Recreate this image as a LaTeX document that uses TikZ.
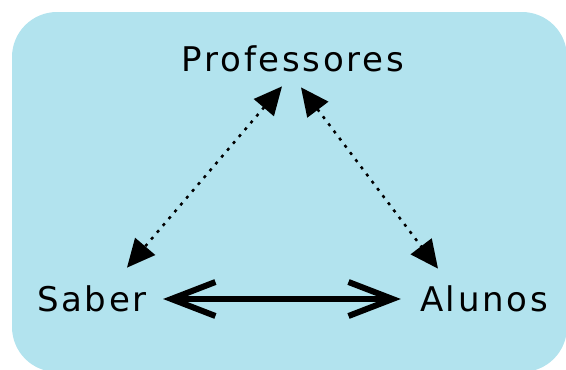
\documentclass[tikz,border=0pt]{standalone}
\usepackage{fontspec}
\newfontfamily\pixfont[LetterSpace=8]{DejaVu Sans}
\usetikzlibrary{arrows.meta}
\definecolor{cardblue}{RGB}{178,227,238}

\begin{document}
\begin{tikzpicture}[x=1pt,y=-1pt,
    word/.style={inner sep=0pt,font=\pixfont\fontsize{34}{34}\selectfont},
    dotarrow/.style={line width=2.5pt,dash pattern=on 3pt off 6pt,
        {Triangle[length=28pt,width=26pt]}-{Triangle[length=28pt,width=26pt]}},
    bigarrow/.style={line width=6pt,
        {Straight Barb[length=44pt,width=34pt]}-{Straight Barb[length=44pt,width=34pt]}}]
    % the card behind everything
    \useasboundingbox (0,0) rectangle (566,370);
    \fill[cardblue,rounded corners=45pt] (12,12) rectangle (567,372);

    % the three words
    \node[word] (prof)   at (293,59)  {Professores};
    \node[word] (saber)  at (92,299)  {Saber};
    \node[word] (alunos) at (484,299) {Alunos};

    % dotted links to the top
    \draw[dotarrow] ([shift={(-11,14)}]prof.south) -- ([shift={(35,-18)}]saber.north);
    \draw[dotarrow] ([shift={(8,15)}]prof.south) -- ([shift={(-46,-17)}]alunos.north);

    % thick link at the bottom
    \draw[bigarrow] ([xshift=16]saber.east) -- ([xshift=-19]alunos.west);
\end{tikzpicture}
\end{document}
